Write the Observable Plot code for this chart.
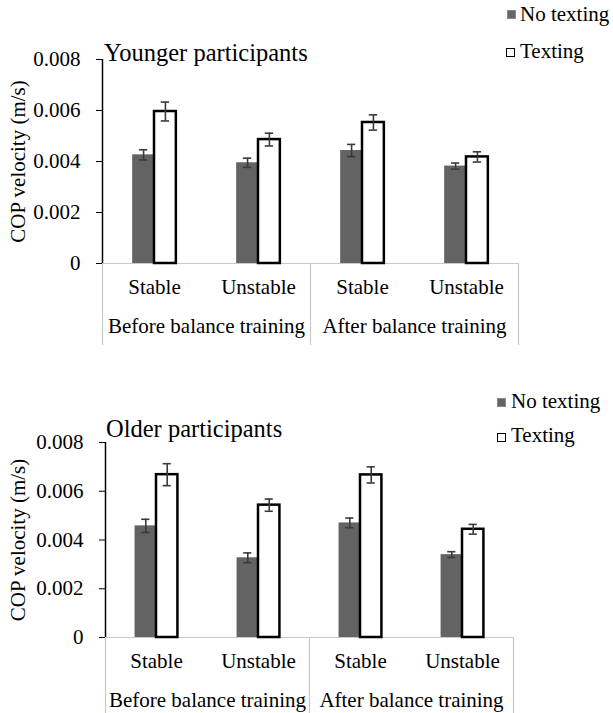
<!DOCTYPE html>
<html>
<head>
<meta charset="utf-8">
<script src="https://cdn.jsdelivr.net/npm/d3@7"></script>
<script src="https://cdn.jsdelivr.net/npm/@observablehq/plot@0.6"></script>
<style>
  html, body { margin: 0; padding: 0; background: #fff; }
  #root { position: relative; width: 613px; height: 713px; overflow: hidden; font-family: "Liberation Serif", serif; color: #000; }
  #root svg, #root svg text, #root svg g { font-family: "Liberation Serif", serif !important; }
  #root svg text { font-size: 21px !important; }
  .chart { position: absolute; left: 0; }
  .title { position: absolute; font-family: "Liberation Serif", serif; font-size: 24.5px; line-height: 24.5px; white-space: nowrap; }
  .ltext { position: absolute; font-family: "Liberation Serif", serif; font-size: 21px; line-height: 21px; white-space: nowrap; }
  .sw { position: absolute; width: 9px; height: 9px; box-sizing: border-box; }
</style>
</head>
<body>
<div id="root">
  <div class="chart" id="c1" style="top:0px"></div>
  <div class="chart" id="c2" style="top:360px"></div>
  <div class="title" style="left:104px; top:40.5px">Younger participants</div>
  <div class="title" style="left:106px; top:416.5px">Older participants</div>
  <div class="sw" style="left:507px; top:10px; background:#666; border:1px solid #888"></div>
  <div class="ltext" style="left:520px; top:3.5px">No texting</div>
  <div class="sw" style="left:506px; top:48px; background:#fff; border:1.5px solid #000"></div>
  <div class="ltext" style="left:520px; top:40.5px">Texting</div>
  <div class="sw" style="left:497px; top:398px; background:#666; border:1px solid #888"></div>
  <div class="ltext" style="left:511px; top:390.5px">No texting</div>
  <div class="sw" style="left:497px; top:433px; background:#fff; border:1.5px solid #000"></div>
  <div class="ltext" style="left:511px; top:424.5px">Texting</div>
</div>
<script>
// ---- Data ----
const conditions = ["Stable", "Unstable", "Stable", "Unstable"];
const phases = ["Before balance training", "Before balance training", "After balance training", "After balance training"];
const series = ["No texting", "Texting"];
const yTicks = [0, 0.002, 0.004, 0.006, 0.008];
const yLabel = "COP velocity (m/s)";

// Younger participants
const youngNoTexting = [0.00426, 0.00395, 0.00443, 0.00382];
const youngTexting   = [0.00596, 0.00486, 0.00553, 0.00418];
const youngErrNoTexting = [0.00020, 0.00018, 0.00024, 0.00012];
const youngErrTexting   = [0.00037, 0.00025, 0.00030, 0.00020];

// Older participants
const oldNoTexting = [0.00458, 0.00327, 0.00470, 0.00340];
const oldTexting   = [0.00668, 0.00543, 0.00667, 0.00444];
const oldErrNoTexting = [0.00027, 0.00020, 0.00020, 0.00012];
const oldErrTexting   = [0.00045, 0.00025, 0.00033, 0.00020];

// ---- Layout helpers ----
const barW = 0.21;   // bar width as fraction of one condition slot
const capW = 0.04;   // half width of error caps

function rowsFor(nt, tx, ent, etx) {
  const rows = [];
  conditions.forEach((c, i) => {
    rows.push({i, series: series[0], value: nt[i], err: ent[i], x1: i + 0.5 - barW, x2: i + 0.5});
    rows.push({i, series: series[1], value: tx[i], err: etx[i], x1: i + 0.5, x2: i + 0.5 + barW});
  });
  rows.forEach(r => { r.cx = (r.x1 + r.x2) / 2; r.lo = r.value - r.err; r.hi = r.value + r.err; });
  return rows;
}

const groupNames = [...new Set(phases)];
const groupEdges = [0];
const groupCenters = [];
groupNames.forEach(g => {
  const idx = phases.map((p, i) => p === g ? i : -1).filter(i => i >= 0);
  groupCenters.push((idx[0] + idx[idx.length - 1] + 1) / 2);
  groupEdges.push(idx[idx.length - 1] + 1);
});
const condCenters = conditions.map((_, i) => i + 0.5);

function chart(rows, {height, marginLeft, marginRight, marginTop, marginBottom}) {
  return Plot.plot({
    width: 613,
    height, marginLeft, marginRight, marginTop, marginBottom,
    style: {fontFamily: "'Liberation Serif', serif", fontSize: "21px", color: "#000", background: "transparent", overflow: "visible"},
    x: {domain: [0, conditions.length]},
    y: {domain: [0, 0.008]},
    marks: [
      Plot.ruleY([0], {stroke: "#c8c8c8", strokeWidth: 1.2}),
      Plot.axisX({ticks: groupEdges, tickSize: marginBottom, tickFormat: () => "", stroke: "#c8c8c8", strokeWidth: 1.2}),
      Plot.axisX({ticks: condCenters, tickSize: 0, tickPadding: 16, tickFormat: d => conditions[Math.floor(d)], fontSize: 21}),
      Plot.axisX({ticks: groupCenters, tickSize: 0, tickPadding: 55, tickFormat: d => groupNames[groupCenters.indexOf(d)], fontSize: 21, label: null}),
      Plot.rectY(rows.filter(r => r.series === series[0]), {x1: "x1", x2: "x2", y: "value", fill: "#636363"}),
      Plot.rectY(rows.filter(r => r.series === series[1]), {x1: "x1", x2: "x2", y: "value", fill: "#fff", stroke: "#000", strokeWidth: 2.5}),
      Plot.ruleX(rows, {x: "cx", y1: "lo", y2: "hi", stroke: "#3a3a3a", strokeWidth: 1.6}),
      Plot.ruleY(rows, {y: "hi", x1: d => d.cx - capW, x2: d => d.cx + capW, stroke: "#3a3a3a", strokeWidth: 1.6}),
      Plot.ruleY(rows, {y: "lo", x1: d => d.cx - capW, x2: d => d.cx + capW, stroke: "#3a3a3a", strokeWidth: 1.6}),
      Plot.axisY({ticks: yTicks, tickSize: 6, tickPadding: 16, tickFormat: d => d === 0 ? "0" : d.toFixed(3), fontSize: 21,
        label: yLabel, labelAnchor: "center", labelArrow: "none", labelOffset: marginLeft - 10}),
      Plot.ruleX([0], {y1: 0, y2: 0.008, stroke: "#000", strokeWidth: 1.5})
    ]
  });
}

document.getElementById("c1").appendChild(
  chart(rowsFor(youngNoTexting, youngTexting, youngErrNoTexting, youngErrTexting),
    {height: 345, marginLeft: 102, marginRight: 95, marginTop: 59, marginBottom: 82})
);
document.getElementById("c2").appendChild(
  chart(rowsFor(oldNoTexting, oldTexting, oldErrNoTexting, oldErrTexting),
    {height: 353, marginLeft: 105, marginRight: 100, marginTop: 82, marginBottom: 76})
);
</script>
</body>
</html>
